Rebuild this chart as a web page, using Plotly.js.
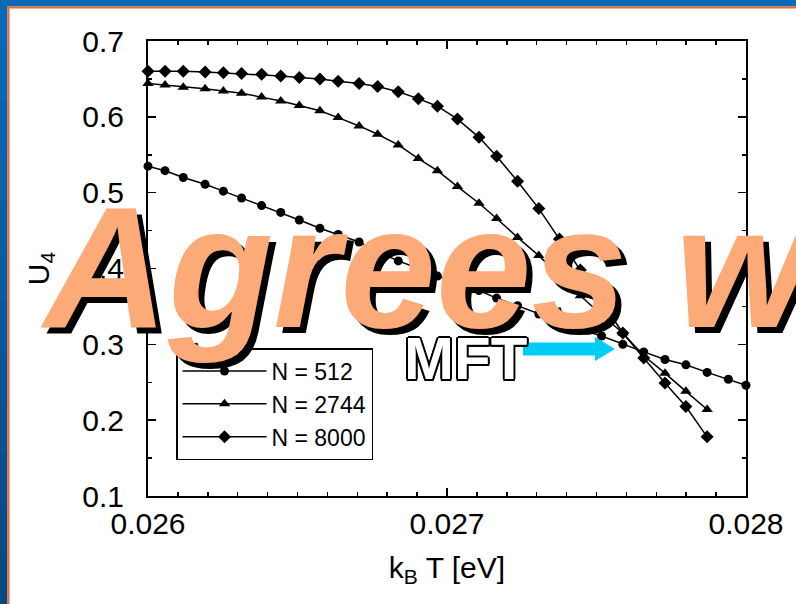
<!DOCTYPE html>
<html>
<head>
<meta charset="utf-8">
<script src="https://cdn.plot.ly/plotly-3.0.1.min.js"></script>
<style>
  html, body { margin: 0; padding: 0; background: #ffffff; }
  #chart { width: 796px; height: 604px; }
</style>
</head>
<body>
<div id="chart"></div>
<script>
// Binder cumulant U4 versus temperature for three system sizes
const temperature = [
  0.02600, 0.026057, 0.026118, 0.026191, 0.026252, 0.026313, 0.026380, 0.026444,
  0.026506, 0.026575, 0.026636, 0.026706, 0.026768, 0.026837, 0.026904, 0.026968,
  0.027035, 0.027107, 0.027166, 0.027236, 0.027307, 0.027376, 0.027446, 0.027517,
  0.027588, 0.027658, 0.027729, 0.027799, 0.027870, 0.027941, 0.02800
];

const u4N512 = [
  0.535, 0.529, 0.520, 0.511, 0.502, 0.493, 0.483, 0.474,
  0.464, 0.453, 0.445, 0.435, 0.422, 0.410, 0.400, 0.390,
  0.381, 0.371, 0.361, 0.351, 0.340, 0.330, 0.320, 0.311,
  0.300, 0.290, 0.280, 0.273, 0.263, 0.254, 0.246
];

const u4N2744 = [
  0.644, 0.642, 0.639, 0.637, 0.634, 0.631, 0.626, 0.621,
  0.615, 0.608, 0.599, 0.588, 0.577, 0.563, 0.545, 0.529,
  0.508, 0.486, 0.466, 0.441, 0.417, 0.390, 0.364, 0.339,
  0.315, 0.285, 0.262, 0.238, 0.214
];

const u4N8000 = [
  0.660, 0.660, 0.660, 0.659, 0.658, 0.657, 0.656, 0.654,
  0.652, 0.650, 0.647, 0.644, 0.640, 0.633, 0.624, 0.614,
  0.597, 0.573, 0.548, 0.515, 0.479, 0.439, 0.398, 0.357,
  0.315, 0.282, 0.249, 0.218, 0.178
];

const seriesNames = ['N = 512', 'N = 2744', 'N = 8000'];
const xTickVals = [0.026, 0.027, 0.028];
const xTickText = ['0.026', '0.027', '0.028'];
const yTickVals = [0.1, 0.2, 0.3, 0.4, 0.5, 0.6, 0.7];
const yTickText = ['0.1', '0.2', '0.3', '0.4', '0.5', '0.6', '0.7'];

// page geometry and pixel -> paper helpers for decorations
const W = 796, H = 604;
const M = { l: 148, r: 50, t: 41, b: 108 };
const PW = W - M.l - M.r, PH = H - M.t - M.b;
const px = x => (x - M.l) / PW;
const py = y => (H - M.b - y) / PH;

const FONT = 'Liberation Sans, Arial, Helvetica, sans-serif';

function series(yVals, name, symbol, size) {
  return {
    type: 'scatter',
    mode: 'lines+markers',
    name: name,
    x: temperature.slice(0, yVals.length),
    y: yVals,
    line: { color: '#000', width: 1.5 },
    marker: { symbol: symbol, size: size, color: '#000' },
    cliponaxis: false
  };
}

const traces = [
  series(u4N512, seriesNames[0], 'circle', 9),
  series(u4N2744, seriesNames[1], 'triangle-up', 10),
  series(u4N8000, seriesNames[2], 'diamond', 10)
];

// slide frame: blue bands with a thin orange rule on the top and left
const shapes = [];
const blueTop = [11, 106, 184], blueBottom = [10, 72, 132];
const bands = 12;
for (let i = 0; i < bands; i++) {
  const f = i / (bands - 1);
  const c = blueTop.map((v, k) => Math.round(v + (blueBottom[k] - v) * f));
  shapes.push({
    type: 'rect', xref: 'paper', yref: 'paper', layer: 'above',
    x0: px(0), x1: px(7.5), y0: py(i * H / bands), y1: py((i + 1) * H / bands + 1),
    fillcolor: `rgb(${c[0]},${c[1]},${c[2]})`, line: { width: 0 }
  });
}
shapes.push({
  type: 'rect', xref: 'paper', yref: 'paper', layer: 'above',
  x0: px(0), x1: px(W), y0: py(0), y1: py(6.5),
  fillcolor: '#0b6ab8', line: { width: 0 }
});
shapes.push({
  type: 'rect', xref: 'paper', yref: 'paper', layer: 'above',
  x0: px(7.5), x1: px(W), y0: py(6.5), y1: py(8.5),
  fillcolor: '#ee6a2a', line: { width: 0 }
});
shapes.push({
  type: 'rect', xref: 'paper', yref: 'paper', layer: 'above',
  x0: px(7.5), x1: px(9.5), y0: py(6.5), y1: py(H),
  fillcolor: '#ee6a2a', line: { width: 0 }
});

// cyan arrow pointing at the MFT crossing
const ax0 = 523, ax1 = 595, tip = 615, ac = 349;
shapes.push({
  type: 'path', xref: 'paper', yref: 'paper', layer: 'above',
  path: `M${px(ax0)},${py(ac - 6.5)} L${px(ax1)},${py(ac - 6.5)} L${px(ax1)},${py(ac - 12)} ` +
        `L${px(tip)},${py(ac)} L${px(ax1)},${py(ac + 12)} L${px(ax1)},${py(ac + 6.5)} ` +
        `L${px(ax0)},${py(ac + 6.5)} Z`,
  fillcolor: '#00cdf5', line: { width: 0 }
});

const annotations = [
  {
    xref: 'paper', yref: 'paper', x: px(38), y: py(267), xanchor: 'left', yanchor: 'middle',
    text: '<b><i>Agrees w</i></b>', showarrow: false,
    font: { family: FONT, size: 172, color: '#fcaa78', shadow: '6px 6px 0px #000' }
  },
  {
    xref: 'paper', yref: 'paper', x: px(465), y: py(358), xanchor: 'center', yanchor: 'middle',
    text: '<b>MFT</b>', showarrow: false,
    font: {
      family: FONT, size: 60, color: '#ffffff',
      shadow: '2px 0 0 #000, -2px 0 0 #000, 0 2px 0 #000, 0 -2px 0 #000, ' +
              '1.5px 1.5px 0 #000, -1.5px -1.5px 0 #000, 1.5px -1.5px 0 #000, -1.5px 1.5px 0 #000'
    }
  }
];

const axisCommon = {
  showline: true, linecolor: '#000', linewidth: 2, mirror: 'ticks',
  ticks: 'inside', ticklen: 8, tickwidth: 1.5, tickcolor: '#000',
  showgrid: false, zeroline: false,
  tickfont: { family: FONT, size: 30, color: '#000' }
};

const layout = {
  width: W, height: H,
  margin: M,
  paper_bgcolor: '#ffffff', plot_bgcolor: '#ffffff',
  font: { family: FONT, color: '#000' },
  showlegend: true,
  legend: {
    x: px(176), y: py(348), xanchor: 'left', yanchor: 'top',
    bgcolor: '#ffffff', bordercolor: '#000', borderwidth: 1.5,
    font: { family: FONT, size: 23, color: '#000' },
    itemwidth: 84, tracegroupgap: 0
  },
  xaxis: Object.assign({}, axisCommon, {
    range: [0.026, 0.028],
    tickmode: 'array', tickvals: xTickVals, ticktext: xTickText,
    ticklabelstandoff: 0,
    minor: { dtick: 0.0001, ticks: 'inside', ticklen: 4, tickwidth: 1.5, tickcolor: '#000' },
    title: { text: 'k<sub>B</sub> T [eV]', font: { family: FONT, size: 30, color: '#000' }, standoff: 18 }
  }),
  yaxis: Object.assign({}, axisCommon, {
    range: [0.1, 0.7],
    tickmode: 'array', tickvals: yTickVals, ticktext: yTickText,
    ticklabelstandoff: 16,
    minor: { dtick: 0.05, ticks: 'inside', ticklen: 4, tickwidth: 1.5, tickcolor: '#000' },
    title: { text: 'U<sub>4</sub>', font: { family: FONT, size: 30, color: '#000' }, standoff: 24 }
  }),
  shapes: shapes,
  annotations: annotations
};

Plotly.newPlot('chart', traces, layout, { staticPlot: true }).then(gd => {
  // keep the slogan text above the legend box
  const info = gd.querySelector('.infolayer');
  const legend = info && info.querySelector('.legend');
  if (legend) info.insertBefore(legend, info.firstChild);
});
</script>
</body>
</html>
